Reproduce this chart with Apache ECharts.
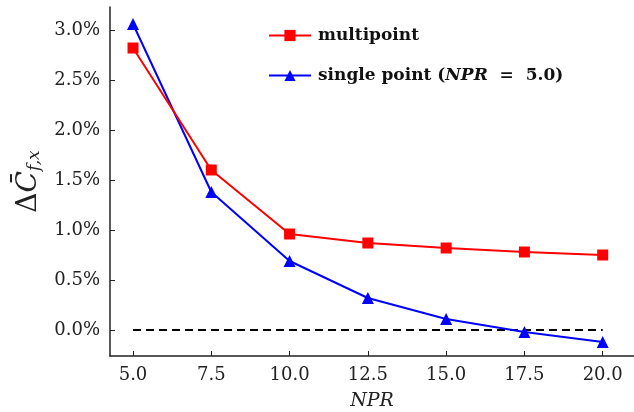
<!DOCTYPE html>
<html>
<head>
<meta charset="utf-8">
<script src="https://cdn.jsdelivr.net/npm/echarts@6/dist/echarts.min.js"></script>
<style>html,body{margin:0;padding:0;background:#fff}#c{width:634px;height:412px}</style>
</head>
<body>
<div id="c"></div>
<script>
const npr = [5, 7.5, 10, 12.5, 15, 17.5, 20];
const multipoint = [2.82, 1.60, 0.96, 0.87, 0.82, 0.78, 0.75];
const singlePoint = [3.06, 1.38, 0.69, 0.32, 0.11, -0.02, -0.12];
const zeroLineX = [5, 20];
const zeroLineY = [0, 0];
const xTicks = [5, 7.5, 10, 12.5, 15, 17.5, 20];
const yTicks = [0, 0.5, 1.0, 1.5, 2.0, 2.5, 3.0];

const font = 'DejaVu Serif';
const chart = echarts.init(document.getElementById('c'), null, {renderer: 'canvas'});
chart.setOption({
  animation: false,
  backgroundColor: '#fff',
  grid: {left: 110, right: 0, top: 7, bottom: 56, containLabel: false, outerBoundsMode: 'none'},
  legend: {
    orient: 'vertical',
    left: 263, top: 22,
    itemWidth: 42, itemHeight: 14, itemGap: 23,
    data: ['multipoint', 'single point (NPR = 5.0)'],
    formatter: function (n) {
      if (n === 'multipoint') return '{b|multipoint}';
      return '{b|single point (}{bi|NPR}{b|  =  5.0)}';
    },
    textStyle: {
      fontFamily: font, fontSize: 17, color: '#111', padding: [0, 0, 0, 2],
      rich: {
        b: {fontFamily: font, fontSize: 17, fontWeight: 'bold', color: '#111'},
        bi: {fontFamily: font, fontSize: 17, fontWeight: 'bold', fontStyle: 'italic', color: '#111'}
      }
    }
  },
  xAxis: {
    type: 'value', min: 4.265, max: 21.0,
    name: 'NPR', nameLocation: 'middle', nameGap: 36,
    nameTextStyle: {fontFamily: font, fontStyle: 'italic', fontSize: 19, color: '#222'},
    axisLine: {show: true, onZero: false, lineStyle: {color: '#222', width: 1.5}},
    axisTick: {show: true, inside: true, length: 5, customValues: xTicks, lineStyle: {color: '#222'}},
    axisLabel: {customValues: xTicks, fontFamily: font, fontSize: 18, color: '#222', margin: 10,
      formatter: v => v.toFixed(1)},
    splitLine: {show: false}
  },
  yAxis: {
    type: 'value', min: -0.26, max: 3.23,
    name: '{d|Δ}{c|C̄}{s|f,x}', nameLocation: 'middle', nameGap: 60, nameRotate: 90,
    nameTextStyle: {
      rich: {
        d: {fontFamily: font, fontSize: 28, color: '#222'},
        c: {fontFamily: font, fontSize: 28, fontStyle: 'italic', color: '#222'},
        s: {fontFamily: font, fontSize: 17, fontStyle: 'italic', color: '#222', verticalAlign: 'bottom', padding: [12, 0, 0, 0]}
      }
    },
    axisLine: {show: true, onZero: false, lineStyle: {color: '#222', width: 1.5}},
    axisTick: {show: true, inside: true, length: 5, customValues: yTicks, lineStyle: {color: '#222'}},
    axisLabel: {customValues: yTicks, fontFamily: font, fontSize: 18, color: '#222', margin: 10,
      formatter: v => v.toFixed(1) + '%'},
    splitLine: {show: false}
  },
  series: [
    {
      name: 'zero', type: 'line', symbol: 'none', silent: true,
      data: zeroLineX.map((x, i) => [x, zeroLineY[i]]),
      lineStyle: {color: '#000', width: 2.2, type: [8, 5]}, z: 1
    },
    {
      name: 'multipoint', type: 'line', symbol: 'rect', symbolSize: 11,
      data: npr.map((x, i) => [x, multipoint[i]]),
      itemStyle: {color: '#ff0000'}, lineStyle: {color: '#ff0000', width: 2}, z: 3
    },
    {
      name: 'single point (NPR = 5.0)', type: 'line', symbol: 'triangle', symbolSize: 12,
      data: npr.map((x, i) => [x, singlePoint[i]]),
      itemStyle: {color: '#0000ff'}, lineStyle: {color: '#0000ff', width: 2}, z: 2
    }
  ]
});
</script>
</body>
</html>
